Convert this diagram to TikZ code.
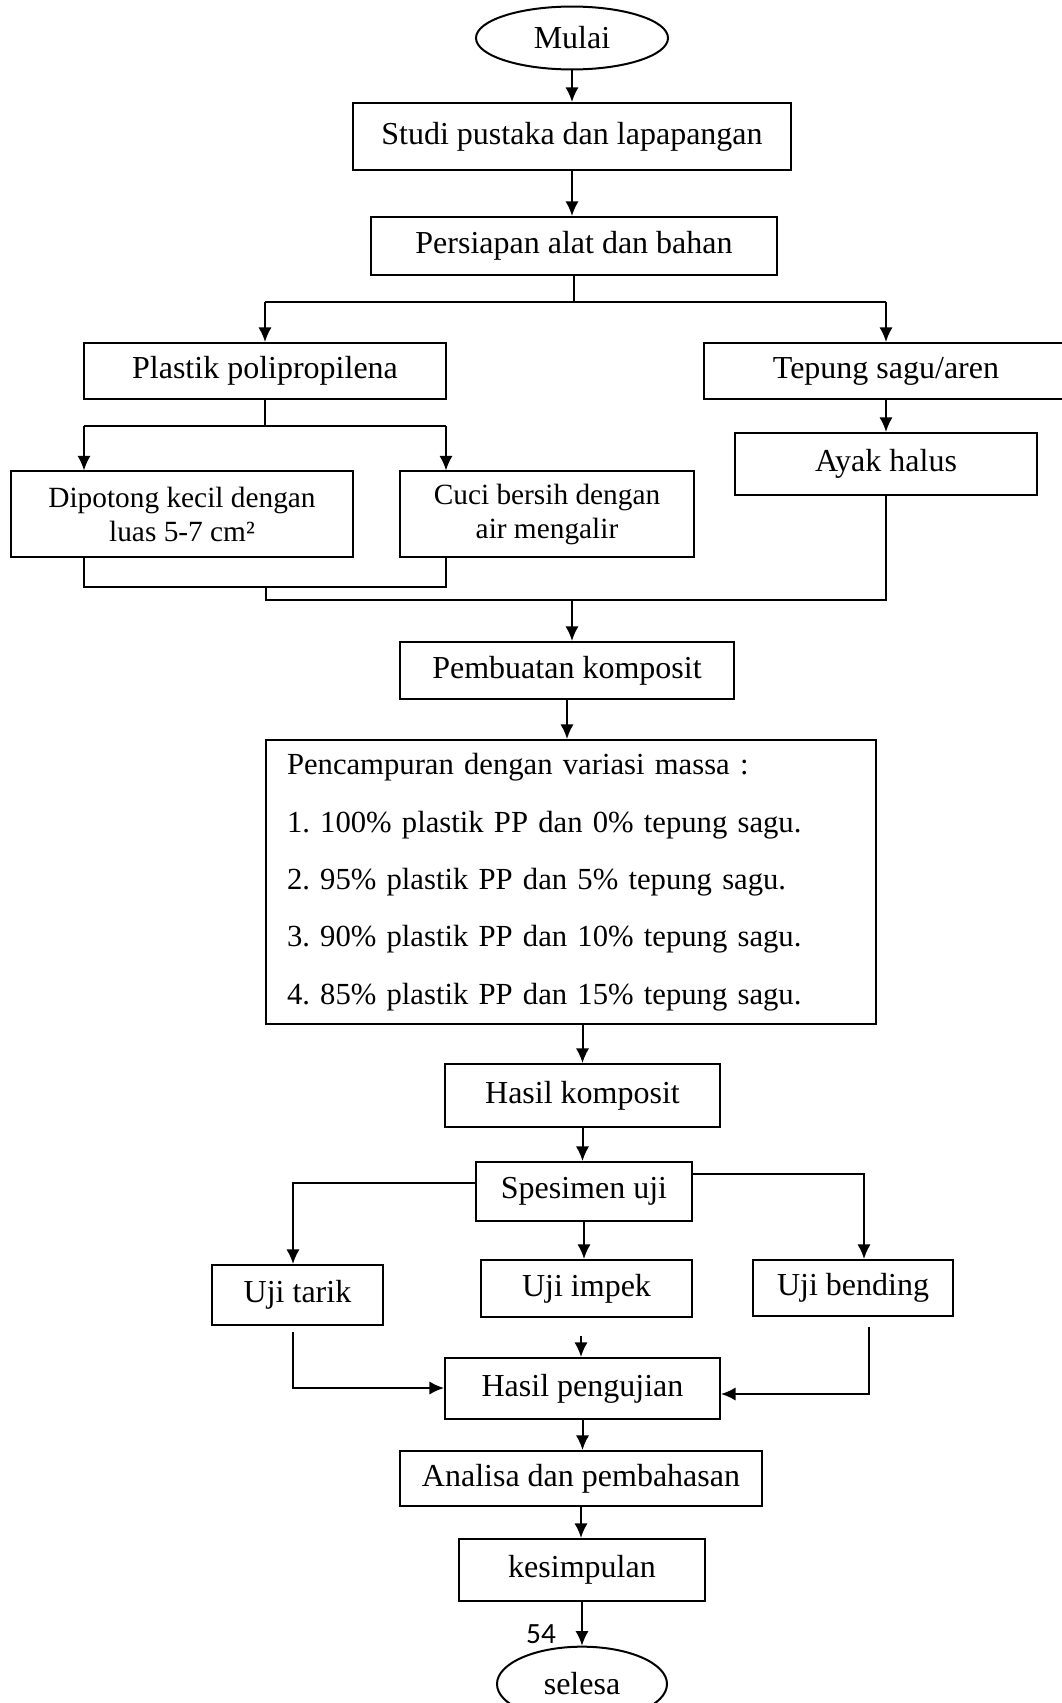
\documentclass[tikz,border=0pt]{standalone}
\usepackage{fontspec}
\setmainfont{Liberation Serif}
\newfontfamily\halfont{Carlito}
\usepackage{tikz}
\usetikzlibrary{shapes.geometric,arrows.meta}
\frenchspacing

\begin{document}
\begin{tikzpicture}[x=0.375pt,y=-0.375pt,line width=0.75pt,
	>={Latex[length=5.5pt,width=5pt]},
	every node/.style={font=\fontsize{12}{14.4}\selectfont},
	box/.style={draw,rectangle,inner sep=0pt,align=center},
	oval/.style={draw,ellipse,inner sep=0pt},
	kecil/.style={font=\fontsize{11}{12.75}\selectfont}]
	\useasboundingbox (0,0) rectangle (1062,1703);
	% alur utama
	\node [oval,minimum width=72pt,minimum height=23.6pt] (mulai) at (572,38) {Mulai};
	\node [box,minimum width=164.6pt,minimum height=25.1pt] (studi) at (572,136.5) {Studi pustaka dan lapapangan};
	\node [box,minimum width=152.3pt,minimum height=21.75pt] (persiapan) at (574,246) {Persiapan alat dan bahan};
	\node [box,minimum width=135.75pt,minimum height=21pt] (plastik) at (265,371) {Plastik polipropilena};
	\node [box,minimum width=136.5pt,minimum height=21pt] (tepung) at (886,371) {Tepung sagu/aren};
	\node [box,minimum width=112.9pt,minimum height=23.25pt] (ayak) at (886,464) {Ayak halus};
	\node [box,kecil,minimum width=128.25pt,minimum height=31.9pt] (dipotong) at (182,514) {Dipotong kecil dengan\\luas 5-7 cm²};
	\node [box,kecil,minimum width=110.25pt,minimum height=31.9pt] (cuci) at (547,514) {Cuci bersih dengan\\air mengalir};
	\node [box,minimum width=125.25pt,minimum height=21.4pt] (pembuatan) at (567,670.5) {Pembuatan komposit};
	\node [box,align=left,text width=213pt,minimum height=106.5pt,inner xsep=7.9pt,
		font=\fontsize{11.5}{21.5}\selectfont] (campur) at (571,882) {Pencampuran dengan variasi massa :\\
		1. 100\% plastik PP dan 0\% tepung sagu.\\
		2. 95\% plastik PP dan 5\% tepung sagu.\\
		3. 90\% plastik PP dan 10\% tepung sagu.\\
		4. 85\% plastik PP dan 15\% tepung sagu.};
	\node [box,minimum width=103.1pt,minimum height=23.6pt] (hasilk) at (582.5,1095.5) {Hasil komposit};
	\node [box,minimum width=81pt,minimum height=22.1pt] (spesimen) at (584,1191.5) {Spesimen uji};
	\node [box,minimum width=64.1pt,minimum height=22.5pt] (tarik) at (297.5,1295) {Uji tarik};
	\node [box,minimum width=79.1pt,minimum height=21.4pt] (impek) at (586.5,1288.5) {Uji impek};
	\node [box,minimum width=75pt,minimum height=21pt] (bending) at (853,1288) {Uji bending};
	\node [box,minimum width=103.1pt,minimum height=22.9pt] (hasilp) at (582.5,1388.5) {Hasil pengujian};
	\node [box,minimum width=135.75pt,minimum height=20.6pt] (analisa) at (581,1478.5) {Analisa dan pembahasan};
	\node [box,minimum width=92.25pt,minimum height=23.25pt] (kesimpulan) at (582,1570) {kesimpulan};
	\node [oval,minimum width=63.75pt,minimum height=28pt] (selesa) at (582,1684) {selesa};
	\node [font=\halfont\fontsize{11}{13}\selectfont] (halaman) at (541,1634) {54};

	\draw [->] (mulai.south) -- (mulai.south |- studi.north);
	\draw [->] (studi.south) -- (studi.south |- persiapan.north);
	% cabang bahan
	\coordinate (kiri1) at (265,302);
	\coordinate (kanan1) at (886,302);
	\draw (persiapan.south) -- (persiapan.south |- kiri1);
	\draw (kiri1) -- (kanan1);
	\draw [->] (kiri1) -- (kiri1 |- plastik.north);
	\draw [->] (kanan1) -- (kanan1 |- tepung.north);
	\draw [->] (tepung.south) -- (ayak.north);
	\coordinate (kiri2) at (84,426);
	\coordinate (kanan2) at (446,426);
	\draw (plastik.south) -- (plastik.south |- kiri2);
	\draw (kiri2) -- (kanan2);
	\draw [->] (kiri2) -- (kiri2 |- dipotong.north);
	\draw [->] (kanan2) -- (kanan2 |- cuci.north);
	% gabung ke pembuatan
	\coordinate (kiri3) at (84,587);
	\coordinate (kanan3) at (446,587);
	\coordinate (tengah3) at (266,587);
	\coordinate (gabung) at (266,600);
	\coordinate (ujung) at (886,600);
	\coordinate (turun) at (572,600);
	\draw (kiri2 |- dipotong.south) -- (kiri3) -- (kanan3) -- (kanan2 |- cuci.south);
	\draw (tengah3) -- (gabung) -- (ujung) -- (ayak.south);
	\draw [->] (turun) -- (turun |- pembuatan.north);
	\draw [->] (pembuatan.south) -- (pembuatan.south |- campur.north);
	\draw [->] (hasilk.north |- campur.south) -- (hasilk.north);
	\draw [->] (hasilk.south) -- (hasilk.south |- spesimen.north);
	% pengujian
	\coordinate (kiri4) at (293,1183);
	\coordinate (kanan4) at (864,1174);
	\draw [->] (spesimen.west |- kiri4) -- (kiri4) -- (kiri4 |- tarik.north);
	\draw [->] (spesimen.east |- kanan4) -- (kanan4) -- (kanan4 |- bending.north);
	\draw [->] (spesimen.south) -- (spesimen.south |- impek.north);
	\coordinate (kiri5) at (293,1332);
	\coordinate (kiri6) at (293,1388);
	\coordinate (kanan5) at (869,1327);
	\coordinate (kanan6) at (869,1394);
	\coordinate (tengah5) at (581,1336);
	\draw [->] (kiri5) -- (kiri6) -- (kiri6 -| hasilp.west);
	\draw [->] (kanan5) -- (kanan6) -- (kanan6 -| hasilp.east);
	\draw [->] (tengah5) -- (tengah5 |- hasilp.north);
	\draw [->] (hasilp.south) -- (hasilp.south |- analisa.north);
	\draw [->] (analisa.south) -- (analisa.south |- kesimpulan.north);
	\draw [->] (kesimpulan.south) -- (kesimpulan.south |- selesa.north);
\end{tikzpicture}
\end{document}
